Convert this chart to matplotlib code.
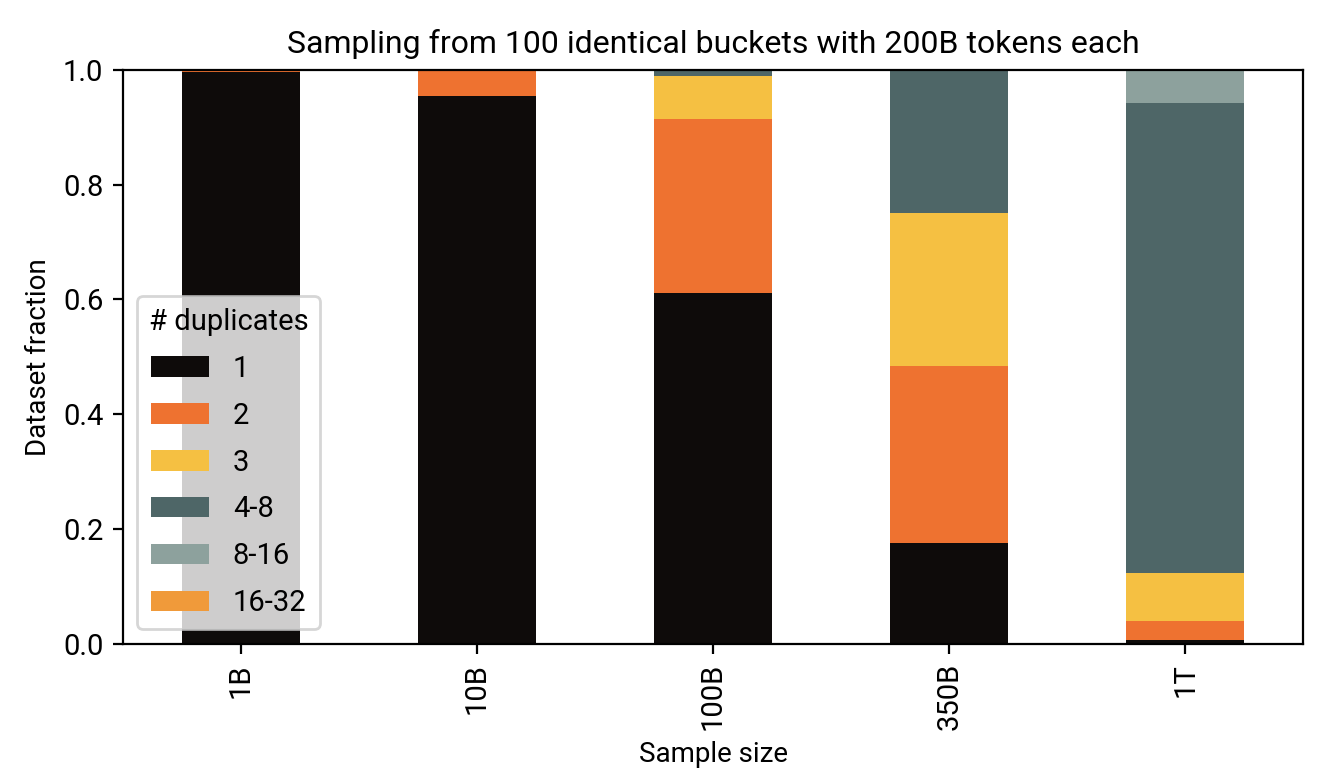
import matplotlib
matplotlib.use("Agg")
import matplotlib.pyplot as plt
import numpy as np
import pandas as pd

plt.rcParams['font.family'] = ['Liberation Sans Narrow', 'Roboto', 'DejaVu Sans']
plt.rcParams['font.size'] = 10

# sample sizes and fraction of dataset per duplicate count
sizes = ['1B', '10B', '100B', '350B', '1T']
dup_1 = [0.996, 0.955, 0.611, 0.176, 0.007]
dup_2 = [0.004, 0.045, 0.304, 0.307, 0.033]
dup_3 = [0.0, 0.0, 0.075, 0.268, 0.084]
dup_4_8 = [0.0, 0.0, 0.010, 0.249, 0.818]
dup_8_16 = [0.0, 0.0, 0.0, 0.0, 0.058]
dup_16_32 = [0.0, 0.0, 0.0, 0.0, 0.0]

colors = ['#0e0b0a', '#ee7230', '#f5c042', '#4e6667', '#8da19d', '#f09a3a']

df = pd.DataFrame({'1': dup_1, '2': dup_2, '3': dup_3, '4-8': dup_4_8,
                   '8-16': dup_8_16, '16-32': dup_16_32}, index=sizes)

fig, ax = plt.subplots(figsize=(6.67, 3.92), dpi=200)
df.plot(kind='bar', stacked=True, color=colors, ax=ax, width=0.5)
ax.set_ylim(0, 1)
ax.set_title('Sampling from 100 identical buckets with 200B tokens each', fontsize=11.5)
ax.set_xlabel('Sample size')
ax.set_ylabel('Dataset fraction')
ax.tick_params(labelsize=10.5)
ax.legend(title='# duplicates', loc='lower left', labelspacing=0.65,
          fontsize=10.5, title_fontsize=10.5)
plt.subplots_adjust(left=0.092, right=0.977, top=0.911, bottom=0.179)
plt.savefig('out.png', dpi=200)
